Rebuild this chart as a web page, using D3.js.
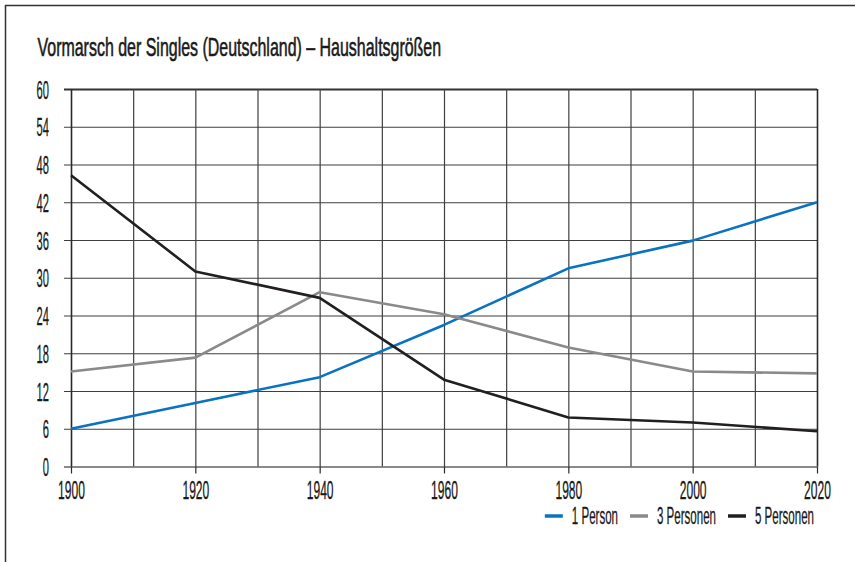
<!DOCTYPE html>
<html>
<head>
<meta charset="utf-8">
<script src="https://cdn.jsdelivr.net/npm/d3@7"></script>
<style>
  html, body { margin: 0; padding: 0; background: #fff; }
  svg { display: block; }
  text { font-family: "Liberation Sans Narrow", "Liberation Sans", sans-serif; fill: #1a1a1a; }
</style>
</head>
<body>
<svg id="chart" width="855" height="562"></svg>
<script>
// ---- data ----
const title = "Vormarsch der Singles (Deutschland) \u2013 Haushaltsgrößen";
const years = [1900, 1920, 1940, 1960, 1980, 2000, 2020];
const seriesNames = ["1 Person", "3 Personen", "5 Personen"];
const onePerson    = [6.0, 10.1, 14.2, 22.5, 31.5, 35.9, 42.0];
const threePersons = [15.1, 17.3, 27.7, 24.2, 18.9, 15.1, 14.8];
const fivePersons  = [46.3, 31.0, 26.8, 13.8, 7.8, 7.0, 5.6];
const yTicks = [0, 6, 12, 18, 24, 30, 36, 42, 48, 54, 60];
const xLabelTicks = [1900, 1920, 1940, 1960, 1980, 2000, 2020];
const xGridTicks = [1900, 1910, 1920, 1930, 1940, 1950, 1960, 1970, 1980, 1990, 2000, 2010, 2020];
const colors = ["#0a73c1", "#8a8a8a", "#231f20"];

const series = [onePerson, threePersons, fivePersons].map((vals, i) => ({
  name: seriesNames[i], color: colors[i],
  values: years.map((y, j) => ({ year: y, value: vals[j] }))
}));

const svg = d3.select("#chart");
const x = d3.scaleLinear().domain([1900, 2020]).range([71, 817]);
const y = d3.scaleLinear().domain([0, 60]).range([466.5, 89]);

// horizontally condense a text around its x anchor with a transform
function condense(node, k) {
  const ax = +(node.getAttribute("x") || 0);
  node.setAttribute("transform", `translate(${ax},0) scale(${k},1) translate(${-ax},0)`);
}

// outer frame
svg.append("line").attr("x1", 5).attr("x2", 855).attr("y1", 5.5).attr("y2", 5.5)
  .attr("stroke", "#333").attr("stroke-width", 1.5);
svg.append("line").attr("x1", 5.5).attr("x2", 5.5).attr("y1", 5).attr("y2", 562)
  .attr("stroke", "#333").attr("stroke-width", 1.5);

// title
const tt = svg.append("text").attr("x", 37.5).attr("y", 56)
  .attr("font-size", 26.5)
  .attr("stroke", "#1a1a1a").attr("stroke-width", 0.6)
  .text(title);
condense(tt.node(), 404 / tt.node().getComputedTextLength());

// horizontal grid (y axis)
const yAxis = d3.axisLeft(y).tickValues(yTicks).tickSize(-(817 - 64)).tickFormat(d3.format("d")).tickPadding(15);
const gy = svg.append("g").attr("transform", "translate(64,0)").call(yAxis);
gy.select(".domain").remove();
gy.selectAll(".tick line").attr("stroke", "#3f3f3f").attr("stroke-width", 1.2);
gy.selectAll(".tick").filter(d => d === 0).select("line").attr("stroke", "#8a8a8a").attr("stroke-width", 1.8);
gy.selectAll(".tick").filter(d => d === 60).select("line").attr("stroke", "#333").attr("stroke-width", 1.8);
gy.selectAll(".tick text").attr("font-size", 25).attr("fill", "#1a1a1a").attr("dy", "0.36em")
  .attr("stroke", "#1a1a1a").attr("stroke-width", 0.3)
  .style("font-family", "'Liberation Sans Narrow', 'Liberation Sans', sans-serif")
  .each(function () {
    const s = d3.select(this);
    condense(this, (s.text().length * 6.2) / this.getComputedTextLength());
  });

// vertical grid (10-year)
const xGrid = d3.axisBottom(x).tickValues(xGridTicks).tickSize(-(466.5 - 89)).tickFormat("");
const gx = svg.append("g").attr("transform", "translate(0,466.5)").call(xGrid);
gx.select(".domain").remove();
gx.selectAll(".tick line").attr("stroke", "#3f3f3f").attr("stroke-width", 1.2);
gx.selectAll(".tick").filter(d => d === 2020 || d === 1900).select("line").attr("stroke", "#2a2a2a").attr("stroke-width", 1.6);

// labelled x axis (20-year) with ticks below
const xAxis = d3.axisBottom(x).tickValues(xLabelTicks).tickSize(7).tickFormat(d3.format("d")).tickPadding(8);
const gxl = svg.append("g").attr("transform", "translate(0,466.5)").call(xAxis);
gxl.select(".domain").remove();
gxl.selectAll(".tick line").attr("stroke", "#2a2a2a").attr("stroke-width", 1.2);
gxl.selectAll(".tick text").attr("font-size", 25).attr("fill", "#1a1a1a")
  .attr("stroke", "#1a1a1a").attr("stroke-width", 0.3)
  .style("font-family", "'Liberation Sans Narrow', 'Liberation Sans', sans-serif")
  .each(function () {
    const s = d3.select(this);
    condense(this, (s.text().length * 6.7) / this.getComputedTextLength());
  });

// lines
const line = d3.line().x(d => x(d.year)).y(d => y(d.value));
svg.append("g").selectAll("path").data(series).join("path")
  .attr("d", d => line(d.values))
  .attr("fill", "none")
  .attr("stroke", d => d.color)
  .attr("stroke-width", 2.6)
  .attr("stroke-linejoin", "round");

// legend (right aligned)
const legend = svg.append("g");
const items = legend.selectAll("g").data(series).join("g");
const textX = 27;
items.append("line").attr("x1", 0).attr("x2", 18).attr("y1", 0).attr("y2", 0)
  .attr("stroke", d => d.color).attr("stroke-width", 3.5);
const ltexts = items.append("text").attr("x", textX).attr("y", 8).attr("font-size", 23).text(d => d.name)
  .attr("stroke", "#1a1a1a").attr("stroke-width", 0.3)
  .style("font-family", "'Liberation Sans Narrow', 'Liberation Sans', sans-serif");
const maxW = d3.max(ltexts.nodes(), n => n.getComputedTextLength());
const lk = 59 / maxW;
const widths = [];
ltexts.each(function () {
  widths.push(textX + this.getComputedTextLength() * lk);
  condense(this, lk);
});
const gap = 12;
const total = d3.sum(widths) + gap * (widths.length - 1);
let cx = 814 - total;
items.each(function (d, i) {
  d3.select(this).attr("transform", `translate(${cx},516)`);
  cx += widths[i] + gap;
});
</script>
</body>
</html>
